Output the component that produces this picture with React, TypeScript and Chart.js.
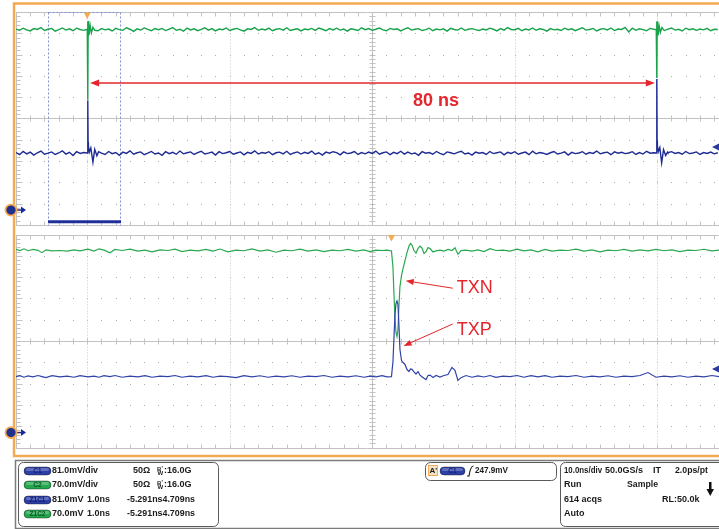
import { useEffect, useRef } from "react";
import { Chart, registerables } from "chart.js";

Chart.register(...registerables);

// ---------------- data ----------------
// main window (10 ns/div), values in screen divisions, sampled every TOP_SAMPLE_NS
const TOP_SAMPLE_NS = 0.5;
const TOP_C2 = [
  4.20, 4.14, 4.24, 4.16, 4.11, 4.22, 4.18, 4.27, 4.13, 4.19,
  4.23, 4.10, 4.17, 4.25, 4.15, 4.21, 4.12, 4.24, 4.18, 4.14,
  4.30, 4.02, 4.28, 4.12, 4.22, 4.16, 4.20, 4.11, 4.23, 4.17,
  4.14, 4.26, 4.19, 4.09, 4.21, 4.15, 4.25, 4.18, 4.12, 4.22,
  4.17, 4.23, 4.13, 4.20, 4.27, 4.14, 4.19, 4.10, 4.24, 4.16,
  4.21, 4.12, 4.18, 4.26, 4.15, 4.22, 4.11, 4.20, 4.17, 4.25,
  4.13, 4.19, 4.23, 4.16, 4.10, 4.21, 4.18, 4.27, 4.14, 4.20,
  4.16, 4.24, 4.12, 4.19, 4.22, 4.15, 4.26, 4.13, 4.18, 4.21,
  4.11, 4.20, 4.17, 4.23, 4.14, 4.25, 4.19, 4.12, 4.22, 4.16,
  4.24, 4.15, 4.20, 4.10, 4.21, 4.18, 4.13, 4.26, 4.17, 4.22,
  4.14, 4.19, 4.25, 4.16, 4.12, 4.23, 4.18, 4.21, 4.11, 4.20,
  4.26, 4.15, 4.19, 4.22, 4.13, 4.17, 4.24, 4.12, 4.20, 4.16,
  4.21, 4.10, 4.23, 4.18, 4.15, 4.25, 4.14, 4.19, 4.22, 4.17,
  4.13, 4.20, 4.16, 4.24, 4.19, 4.11, 4.22, 4.15, 4.27, 4.18,
  4.17, 4.23, 4.12, 4.20, 4.16, 4.25, 4.14, 4.21, 4.18, 4.10,
  4.22, 4.16, 4.19, 4.13, 4.24, 4.17, 4.21, 4.12, 4.20, 4.26,
  4.15, 4.18, 4.23, 4.11, 4.19, 4.22, 4.16, 4.25, 4.13, 4.20,
  4.18, 4.28, 4.06, 4.24, 4.14, 4.21, 4.17, 4.12, 4.23, 4.19,
  4.16, 4.22, 4.13, 4.20, 4.25, 4.15, 4.19, 4.11, 4.24, 4.17,
  4.21, 4.14, 4.20, 4.16, 4.23, 4.12, 4.19, 4.18,
];
const TOP_C1 = [
  -1.60, -1.70, -1.55, -1.66, -1.58, -1.72, -1.61, -1.53, -1.68, -1.63,
  -1.57, -1.69, -1.62, -1.52, -1.67, -1.59, -1.74, -1.56, -1.64, -1.60,
  -1.66, -1.54, -1.71, -1.58, -1.63, -1.69, -1.55, -1.65, -1.60, -1.73,
  -1.58, -1.64, -1.52, -1.68, -1.61, -1.57, -1.70, -1.63, -1.55, -1.67,
  -1.62, -1.73, -1.56, -1.65, -1.59, -1.68, -1.53, -1.66, -1.61, -1.57,
  -1.69, -1.60, -1.54, -1.67, -1.63, -1.58, -1.72, -1.56, -1.65, -1.61,
  -1.55, -1.68, -1.62, -1.57, -1.71, -1.59, -1.64, -1.52, -1.67, -1.60,
  -1.63, -1.56, -1.70, -1.61, -1.58, -1.66, -1.54, -1.69, -1.62, -1.57,
  -1.67, -1.59, -1.64, -1.53, -1.68, -1.61, -1.72, -1.58, -1.63, -1.56,
  -1.60, -1.71, -1.57, -1.65, -1.62, -1.55, -1.69, -1.60, -1.66, -1.58,
  -1.64, -1.53, -1.68, -1.61, -1.57, -1.70, -1.59, -1.65, -1.54, -1.67,
  -1.58, -1.66, -1.62, -1.73, -1.56, -1.63, -1.60, -1.68, -1.55, -1.64,
  -1.70, -1.57, -1.61, -1.66, -1.59, -1.54, -1.67, -1.62, -1.72, -1.58,
  -1.63, -1.60, -1.69, -1.55, -1.65, -1.61, -1.57, -1.71, -1.59, -1.64,
  -1.56, -1.68, -1.62, -1.58, -1.70, -1.54, -1.66, -1.60, -1.63, -1.69,
  -1.61, -1.55, -1.67, -1.63, -1.57, -1.72, -1.59, -1.65, -1.62, -1.56,
  -1.68, -1.60, -1.64, -1.53, -1.66, -1.61, -1.58, -1.70, -1.57, -1.63,
  -1.59, -1.65, -1.62, -1.56, -1.69, -1.60, -1.67, -1.54, -1.63, -1.61,
  -1.66, -1.58, -1.72, -1.61, -1.56, -1.64, -1.60, -1.68, -1.55, -1.65,
  -1.62, -1.57, -1.69, -1.60, -1.64, -1.58, -1.66, -1.61,
];
// the two edges (80 ns apart) in the main window
const C2_EDGE_A_T = [10.0, 10.05, 10.08, 10.1, 10.12, 10.16, 10.26, 10.4, 10.58, 10.8, 11.05];
const C2_EDGE_A_V = [4.19, 4.3, 4.55, 0.88, 3.9, 4.58, 3.92, 4.38, 4.02, 4.28, 4.14];
const C2_EDGE_B_T = [89.86, 89.91, 89.94, 89.96, 89.98, 90.02, 90.12, 90.26, 90.44, 90.66, 90.91];
const C2_EDGE_B_V = [4.18, 4.3, 4.55, 1.9, 3.95, 4.56, 3.9, 4.36, 4.04, 4.27, 4.15];
const C1_EDGE_A_T = [10.0, 10.05, 10.08, 10.1, 10.12, 10.16, 10.3, 10.5, 10.8, 11.05, 11.35, 11.6];
const C1_EDGE_A_V = [-1.62, -1.5, -1.2, 0.85, -1.1, -1.3, -1.58, -1.38, -2.05, -1.45, -1.75, -1.56];
const C1_EDGE_B_T = [89.86, 89.91, 89.94, 89.96, 89.98, 90.02, 90.16, 90.36, 90.62, 90.88, 91.18, 91.44];
const C1_EDGE_B_V = [-1.62, -1.48, -1.2, 1.85, -1.05, -1.3, -1.55, -1.36, -2.08, -1.46, -1.74, -1.58];

// zoom window (1 ns/div), time in ns
const ZOOM_T = [
  4.7, 4.756, 4.812, 4.868, 4.939, 5.009, 5.065, 5.121, 5.205, 5.318,
  5.416, 5.514, 5.598, 5.711, 5.795, 5.865, 5.935, 6.019, 6.089, 6.188,
  6.3, 6.412, 6.511, 6.609, 6.721, 6.833, 6.932, 7.03, 7.142, 7.254,
  7.367, 7.465, 7.563, 7.675, 7.788, 7.9, 8.012, 8.125, 8.237, 8.349,
  8.461, 8.574, 8.686, 8.798, 8.911, 9.023, 9.135, 9.247, 9.36, 9.472,
  9.584, 9.668, 9.753, 9.837, 9.907,
  9.97, 9.991, 10.005, 10.019, 10.033, 10.047, 10.061, 10.075, 10.089, 10.111,
  10.132, 10.16, 10.188, 10.216, 10.237, 10.258, 10.286, 10.314, 10.342, 10.37,
  10.398, 10.427, 10.455, 10.483, 10.511, 10.553, 10.595, 10.651, 10.707, 10.763,
  10.819, 10.861, 10.903, 10.946, 11.016, 11.1, 11.184, 11.268, 11.353, 11.437,
  11.535, 11.633, 11.732, 11.83, 11.928, 12.026, 12.125, 12.223, 12.335, 12.447,
  12.56, 12.672, 12.784, 12.896, 13.009, 13.121, 13.233, 13.346, 13.458, 13.57,
  13.682, 13.795, 13.907, 14.019, 14.131, 14.244, 14.356, 14.468, 14.567,
];
const ZOOM_C2 = [
  4.3, 4.25, 4.33, 4.24, 4.3, 4.26, 4.15, 4.28, 4.23, 4.25,
  4.22, 4.28, 4.23, 4.31, 4.22, 4.33, 4.27, 4.14, 4.3, 4.25,
  4.31, 4.22, 4.27, 4.19, 4.28, 4.25, 4.31, 4.2, 4.27, 4.23,
  4.3, 4.22, 4.32, 4.19, 4.27, 4.24, 4.33, 4.22, 4.28, 4.17,
  4.27, 4.24, 4.31, 4.22, 4.28, 4.2, 4.27, 4.24, 4.3, 4.22,
  4.28, 4.2, 4.27, 4.25, 4.27,
  4.23, 3.45, 2.18, 1.1, 0.4, 0.21, 0.54, 1.71, 2.56, 3.08,
  3.4, 3.78, 4.15, 4.46, 4.58, 4.51, 4.25, 4.13, 4.34, 4.46,
  4.37, 4.11, 4.2, 4.39, 4.34, 4.18, 4.23, 4.27, 4.22, 4.3,
  4.25, 4.38, 4.08, 4.25, 4.27, 4.22, 4.28, 4.2, 4.34, 4.25,
  4.27, 4.22, 4.31, 4.23, 4.28, 4.19, 4.3, 4.22, 4.27, 4.25,
  4.31, 4.22, 4.28, 4.19, 4.27, 4.24, 4.3, 4.22, 4.28, 4.23,
  4.3, 4.24, 4.28, 4.2, 4.27, 4.25, 4.31, 4.23, 4.27,
];
const ZOOM_C1 = [
  -1.67, -1.63, -1.70, -1.64, -1.68, -1.62, -1.67, -1.72, -1.63, -1.68,
  -1.65, -1.70, -1.63, -1.68, -1.65, -1.70, -1.63, -1.67, -1.62, -1.70,
  -1.65, -1.68, -1.63, -1.70, -1.65, -1.67, -1.62, -1.70, -1.65, -1.68,
  -1.63, -1.70, -1.65, -1.67, -1.72, -1.63, -1.68, -1.63, -1.70, -1.65,
  -1.68, -1.63, -1.70, -1.65, -1.67, -1.62, -1.70, -1.65, -1.68, -1.63,
  -1.70, -1.65, -1.68, -1.63, -1.68,
  -1.67, -0.96, 0.16, 1.24, 1.76, 1.88, 1.71, 0.73, -0.4, -0.92,
  -1.01, -1.1, -1.34, -1.43, -1.31, -1.33, -1.45, -1.55, -1.43, -1.6,
  -1.68, -1.75, -1.81, -1.62, -1.6, -1.71, -1.62, -1.69, -1.62, -1.57,
  -1.24, -1.38, -1.85, -1.72, -1.62, -1.7, -1.64, -1.69, -1.62, -1.71,
  -1.65, -1.67, -1.62, -1.70, -1.63, -1.68, -1.63, -1.70, -1.65, -1.67,
  -1.62, -1.70, -1.65, -1.68, -1.63, -1.70, -1.65, -1.67, -1.62, -1.48,
  -1.70, -1.65, -1.68, -1.63, -1.70, -1.65, -1.68, -1.62, -1.67,
];

// readout texts
const CH_PILLS = ["C1", "C2", "Z1C1", "Z1C2"];
const CH_SCALE = ["81.0mV/div", "70.0mV/div", "81.0mV", "70.0mV"];
const CH_ZOOM_SCALE = ["", "", "1.0ns", "1.0ns"];
const CH_IMPEDANCE = ["50Ω", "50Ω", "", ""];
const CH_BW = [":16.0G", ":16.0G", "", ""];
const CH_POSITION = ["", "", "-5.291ns4.709ns", "-5.291ns4.709ns"];
const TRIGGER_LEVEL = "247.9mV";
const TB_ROWS = [
  ["10.0ns/div", "50.0GS/s", "IT", "2.0ps/pt"],
  ["Run", "Sample", "", ""],
  ["614 acqs", "", "RL:50.0k", ""],
  ["Auto", "", "", ""],
];
const LABEL_PERIOD = "80 ns";
const LABEL_N = "TXN";
const LABEL_P = "TXP";

// ---------------- styles ----------------
const GREEN = "#18a24a";
const GREEN_Z = "#2aa850";
const NAVY = "#1d2b92";
const BLUE_Z = "#3142a8";
const RED = "#e5262c";
const ORANGE = "#f4aa52";
const GRID = "#c2c2c2";
const FONT = "'Liberation Sans', Arial, sans-serif";

function buildTop(base: number[], edges: [number[], number[]][]) {
  const pts: { x: number; y: number }[] = [];
  base.forEach((v, i) => {
    const t = i * TOP_SAMPLE_NS;
    if (edges.some(([ts]) => t >= ts[0] && t <= ts[ts.length - 1])) return;
    pts.push({ x: t, y: v });
  });
  edges.forEach(([ts, vs]) => ts.forEach((t, i) => pts.push({ x: t, y: vs[i] })));
  pts.sort((a, b) => a.x - b.x);
  return pts;
}

function arrowHead(ctx: CanvasRenderingContext2D, x0: number, y0: number, x1: number, y1: number, len: number, half: number) {
  const a = Math.atan2(y1 - y0, x1 - x0);
  const c = Math.cos(a), s = Math.sin(a);
  ctx.beginPath();
  ctx.moveTo(x1, y1);
  ctx.lineTo(x1 - len * c + half * s, y1 - len * s - half * c);
  ctx.lineTo(x1 - len * c - half * s, y1 - len * s + half * c);
  ctx.closePath();
  ctx.fill();
}

function pill(ctx: CanvasRenderingContext2D, x: number, y: number, w: number, h: number, fill: string, label: string, tc: string) {
  ctx.save();
  ctx.beginPath();
  ctx.roundRect(x, y - h / 2, w, h, h / 2);
  ctx.fillStyle = fill;
  ctx.fill();
  ctx.strokeStyle = "rgba(0,0,0,0.45)";
  ctx.lineWidth = 0.8;
  ctx.stroke();
  ctx.fillStyle = "rgba(255,255,255,0.25)";
  ctx.beginPath();
  ctx.roundRect(x + 2, y - h / 2 + 1, w - 4, h / 2 - 1, h / 4);
  ctx.fill();
  ctx.font = `bold 6.5px ${FONT}`;
  ctx.fillStyle = tc;
  ctx.textAlign = "center";
  ctx.textBaseline = "middle";
  ctx.fillText(label, x + w / 2, y + 0.5);
  ctx.restore();
}

const scopePlugin = {
  id: "scope",
  beforeDraw(chart: any) {
    const { ctx } = chart;
    ctx.save();
    ctx.fillStyle = "#ffffff";
    ctx.fillRect(0, 0, chart.width, chart.height);
    ctx.restore();
  },
  beforeDatasetsDraw(chart: any) {
    const { ctx, chartArea, scales } = chart;
    const xs = scales.xTop;
    const left = chartArea.left, right = chartArea.right;
    const p = (v: number) => Math.round(v) + 0.5;
    ctx.save();
    [scales.yTop, scales.yBot].forEach((ys: any) => {
      const yT = p(ys.getPixelForValue(5));
      const yB = p(ys.getPixelForValue(-5));
      const yC = p(ys.getPixelForValue(0));
      const xC = p(xs.getPixelForValue(50));
      const xL = p(left);
      ctx.strokeStyle = GRID;
      ctx.lineWidth = 1;
      ctx.setLineDash([]);
      ctx.beginPath();
      for (const y of [yT, yB, yC]) { ctx.moveTo(left, y); ctx.lineTo(right, y); }
      ctx.moveTo(xL, yT); ctx.lineTo(xL, yB);
      ctx.moveTo(xC, yT); ctx.lineTo(xC, yB);
      for (let i = 0; i <= 50; i++) {
        const x = p(xs.getPixelForValue(i * 2));
        if (x > right) break;
        ctx.moveTo(x, yT); ctx.lineTo(x, yT + 4);
        ctx.moveTo(x, yB); ctx.lineTo(x, yB - 4);
        ctx.moveTo(x, yC - 3); ctx.lineTo(x, yC + 3);
      }
      for (let i = -25; i <= 25; i++) {
        const y = p(ys.getPixelForValue(i / 5));
        const len = i % 5 === 0 ? 6 : 4;
        ctx.moveTo(xL, y); ctx.lineTo(xL + len, y);
        ctx.moveTo(xC - 3, y); ctx.lineTo(xC + 3, y);
      }
      ctx.stroke();
      // dotted rows
      ctx.fillStyle = "#a9a9a9";
      for (let j = -4; j <= 4; j++) {
        if (j === 0) continue;
        const y = Math.round(ys.getPixelForValue(j));
        for (let i = 1; i <= 50; i++) {
          const x = Math.round(xs.getPixelForValue(i * 2));
          if (x >= right) break;
          ctx.fillRect(x, y, 1, 1);
        }
      }
      // dotted columns
      ctx.strokeStyle = "#c6c6c6";
      ctx.setLineDash([1, 2]);
      ctx.beginPath();
      for (const k of [1, 3, 7, 9]) {
        const x = p(xs.getPixelForValue(k * 10));
        ctx.moveTo(x, yT); ctx.lineTo(x, yB);
      }
      ctx.stroke();
      ctx.setLineDash([]);
    });
    // zoom window box in the main window
    const yTop = scales.yTop;
    const zx0 = p(xs.getPixelForValue(4.53));
    const zx1 = p(xs.getPixelForValue(14.63));
    const zy0 = p(yTop.getPixelForValue(5));
    const zy1 = p(yTop.getPixelForValue(-5));
    ctx.strokeStyle = "#7d8ed6";
    ctx.setLineDash([2, 2]);
    ctx.beginPath();
    ctx.moveTo(zx0, zy0); ctx.lineTo(zx0, zy1);
    ctx.moveTo(zx1, zy0); ctx.lineTo(zx1, zy1);
    ctx.moveTo(zx0, zy0); ctx.lineTo(zx1, zy0);
    ctx.stroke();
    ctx.setLineDash([]);
    ctx.fillStyle = "#1f2f9a";
    ctx.fillRect(zx0 - 0.5, yTop.getPixelForValue(-4.85) - 1.5, zx1 - zx0 + 1, 3);
    ctx.restore();
  },
  afterDraw(chart: any) {
    const { ctx, scales, chartArea } = chart;
    const xT = scales.xTop, yT = scales.yTop, xB = scales.xBot, yB = scales.yBot;
    ctx.save();
    // ---- annotations ----
    ctx.strokeStyle = RED;
    ctx.fillStyle = RED;
    ctx.lineWidth = 1.5;
    const ax0 = xT.getPixelForValue(10.4), ax1 = xT.getPixelForValue(89.66), ay = yT.getPixelForValue(1.67);
    ctx.beginPath();
    ctx.moveTo(ax0 + 6, ay); ctx.lineTo(ax1 - 6, ay);
    ctx.stroke();
    arrowHead(ctx, ax1, ay, ax0, ay, 9, 3.5);
    arrowHead(ctx, ax0, ay, ax1, ay, 9, 3.5);
    ctx.font = `bold 18px ${FONT}`;
    ctx.textAlign = "center";
    ctx.textBaseline = "middle";
    ctx.fillText(LABEL_PERIOD, xT.getPixelForValue(58.95), yT.getPixelForValue(0.82));

    ctx.lineWidth = 1;
    const arrows = [
      [10.83, 2.48, 10.17, 2.83],
      [10.83, 0.8, 10.14, -0.23],
    ];
    arrows.forEach(([t0, v0, t1, v1]) => {
      const x0 = xB.getPixelForValue(t0), y0 = yB.getPixelForValue(v0);
      const x1 = xB.getPixelForValue(t1), y1 = yB.getPixelForValue(v1);
      const a = Math.atan2(y1 - y0, x1 - x0);
      ctx.beginPath();
      ctx.moveTo(x0, y0);
      ctx.lineTo(x1 - 6 * Math.cos(a), y1 - 6 * Math.sin(a));
      ctx.stroke();
      arrowHead(ctx, x0, y0, x1, y1, 8, 3);
    });
    ctx.font = `18px ${FONT}`;
    ctx.textAlign = "left";
    ctx.fillText(LABEL_N, xB.getPixelForValue(10.885), yB.getPixelForValue(2.47));
    ctx.fillText(LABEL_P, xB.getPixelForValue(10.885), yB.getPixelForValue(0.52));

    // ---- trigger markers ----
    ctx.fillStyle = ORANGE;
    const tri = (x: number, y: number) => {
      ctx.beginPath();
      ctx.moveTo(x - 3.5, y); ctx.lineTo(x + 3.5, y); ctx.lineTo(x, y + 6.5); ctx.closePath(); ctx.fill();
    };
    tri(xT.getPixelForValue(10.0), yT.getPixelForValue(5) + 0.5);
    tri(xB.getPixelForValue(9.97), yB.getPixelForValue(5) + 0.5);

    // ---- frame ----
    ctx.strokeStyle = ORANGE;
    ctx.lineWidth = 2.5;
    ctx.beginPath();
    ctx.moveTo(14, 456); ctx.lineTo(14, 3.5); ctx.lineTo(730, 3.5);
    ctx.moveTo(12.75, 456); ctx.lineTo(730, 456);
    ctx.stroke();

    // ---- ground markers (left) and level markers (right) ----
    const gnd = (y: number) => {
      ctx.fillStyle = NAVY;
      ctx.strokeStyle = NAVY;
      ctx.lineWidth = 1.5;
      ctx.beginPath(); ctx.moveTo(16, y); ctx.lineTo(22, y); ctx.stroke();
      ctx.beginPath(); ctx.moveTo(21, y - 3.5); ctx.lineTo(26, y); ctx.lineTo(21, y + 3.5); ctx.closePath(); ctx.fill();
      ctx.beginPath(); ctx.arc(11, y, 5.5, 0, Math.PI * 2);
      ctx.fillStyle = "#20308e"; ctx.fill();
      ctx.strokeStyle = ORANGE; ctx.lineWidth = 1.8; ctx.stroke();
    };
    gnd(yT.getPixelForValue(-4.3));
    gnd(yB.getPixelForValue(-4.3));
    const lvl = (y: number) => {
      ctx.fillStyle = "#2a3aa0";
      ctx.beginPath(); ctx.moveTo(chartArea.right - 7, y); ctx.lineTo(chartArea.right, y - 3.5); ctx.lineTo(chartArea.right, y + 3.5); ctx.closePath(); ctx.fill();
    };
    lvl(yT.getPixelForValue(-1.34));
    lvl(yB.getPixelForValue(-1.31));

    // ---- readout panel ----
    ctx.strokeStyle = "#7b7b7b";
    ctx.lineWidth = 1.5;
    ctx.beginPath();
    ctx.moveTo(15, 460.5); ctx.lineTo(719, 460.5);
    ctx.moveTo(15.5, 460); ctx.lineTo(15.5, 529);
    ctx.moveTo(15, 528.5); ctx.lineTo(719, 528.5);
    ctx.stroke();
    ctx.strokeStyle = "#5a5a5a";
    ctx.lineWidth = 1;
    ctx.beginPath(); ctx.roundRect(18.5, 462.5, 200, 64, 5); ctx.stroke();
    ctx.beginPath(); ctx.roundRect(425.5, 462.5, 131, 18, 5); ctx.stroke();
    ctx.beginPath(); ctx.roundRect(560.5, 462.5, 170, 64, 5); ctx.stroke();

    ctx.textAlign = "left";
    ctx.textBaseline = "middle";
    const rows = [471, 485, 500, 514];
    const pillColors = [["#2d3fa6", "#10207a"], ["#23a84e", "#0d5a25"], ["#2d3fa6", "#10207a"], ["#23a84e", "#0d5a25"]];
    CH_PILLS.forEach((lab, i) => {
      const y = rows[i];
      pill(ctx, 24, y, 27, 8, pillColors[i][0], lab, pillColors[i][1]);
      ctx.fillStyle = "#1a1a1a";
      ctx.font = `bold 9px ${FONT}`;
      ctx.fillText(CH_SCALE[i], 52, y, 46);
      if (CH_ZOOM_SCALE[i]) ctx.fillText(CH_ZOOM_SCALE[i], 87, y, 23);
      if (CH_IMPEDANCE[i]) ctx.fillText(CH_IMPEDANCE[i], 133, y);
      if (CH_POSITION[i]) ctx.fillText(CH_POSITION[i], 127, y, 68);
      if (CH_BW[i]) {
        ctx.font = `bold 6px ${FONT}`;
        ctx.fillText("B", 157, y - 2);
        ctx.fillText("'", 161.5, y - 2.5);
        ctx.fillText("W", 157.5, y + 2.5);
        ctx.font = `bold 9px ${FONT}`;
        ctx.fillText(CH_BW[i], 164, y);
      }
    });
    // trigger readout
    ctx.fillStyle = "#f6e3c6";
    ctx.fillRect(428, 465, 9.5, 11);
    ctx.strokeStyle = ORANGE;
    ctx.lineWidth = 1;
    ctx.strokeRect(428.5, 465.5, 9, 10);
    ctx.fillStyle = "#1a1a1a";
    ctx.font = `bold 8px ${FONT}`;
    ctx.fillText("A'", 429.5, 471);
    pill(ctx, 440, 471, 25, 8, "#2d3fa6", "C1", "#10207a");
    ctx.strokeStyle = "#1a1a1a";
    ctx.lineWidth = 1.2;
    ctx.beginPath();
    ctx.moveTo(467, 476); ctx.lineTo(469, 476);
    ctx.quadraticCurveTo(470.5, 466, 473.5, 466);
    ctx.stroke();
    ctx.fillStyle = "#1a1a1a";
    ctx.font = `bold 9px ${FONT}`;
    ctx.fillText(TRIGGER_LEVEL, 475, 471, 33);
    // timebase readout
    const tbCols = [564, 605, 653, 675];
    const tbCols2 = [564, 627, 662, 675];
    const tbRows = [471, 485, 499.5, 514];
    const tbMax = [[38, 41, 10, 33], [30, 31, 40, 33], [38, 31, 40, 33], [30, 31, 40, 33]];
    TB_ROWS.forEach((r, i) => {
      r.forEach((s, j) => {
        if (!s) return;
        const x = i === 0 ? tbCols[j] : tbCols2[j];
        ctx.fillText(s, x, tbRows[i], tbMax[i][j]);
      });
    });
    ctx.fillStyle = "#111";
    ctx.fillRect(709, 482, 2.5, 9);
    ctx.beginPath(); ctx.moveTo(706.5, 489); ctx.lineTo(714, 489); ctx.lineTo(710.25, 496); ctx.closePath(); ctx.fill();
    ctx.restore();
  },
};

export default function App() {
  const ref = useRef<HTMLCanvasElement>(null);
  useEffect(() => {
    document.body.style.margin = "0";
    document.body.style.overflow = "hidden";
    const topC2 = buildTop(TOP_C2, [[C2_EDGE_A_T, C2_EDGE_A_V], [C2_EDGE_B_T, C2_EDGE_B_V]]);
    const topC1 = buildTop(TOP_C1, [[C1_EDGE_A_T, C1_EDGE_A_V], [C1_EDGE_B_T, C1_EDGE_B_V]]);
    const zoomC2 = ZOOM_T.map((t, i) => ({ x: t, y: ZOOM_C2[i] }));
    const zoomC1 = ZOOM_T.map((t, i) => ({ x: t, y: ZOOM_C1[i] }));
    const chart = new Chart(ref.current as HTMLCanvasElement, {
      type: "line",
      data: {
        datasets: [
          { label: "Z1C1", data: zoomC1, xAxisID: "xBot", yAxisID: "yBot", borderColor: BLUE_Z, borderWidth: 1.2, order: 0 },
          { label: "Z1C2", data: zoomC2, xAxisID: "xBot", yAxisID: "yBot", borderColor: GREEN_Z, borderWidth: 1.2, order: 1 },
          { label: "C1", data: topC1, xAxisID: "xTop", yAxisID: "yTop", borderColor: NAVY, borderWidth: 1.4, order: 0 },
          { label: "C2", data: topC2, xAxisID: "xTop", yAxisID: "yTop", borderColor: GREEN, borderWidth: 1.4, order: 1 },
        ],
      },
      options: {
        responsive: false,
        animation: false,
        devicePixelRatio: 1,
        events: [],
        layout: { padding: { left: 16, top: 12, right: 0, bottom: 81.5 } },
        elements: { point: { radius: 0 }, line: { tension: 0 } },
        scales: {
          xTop: { type: "linear", axis: "x", min: 0, max: 98.667, display: false },
          xBot: { type: "linear", axis: "x", min: 4.7, max: 14.567, display: false },
          yTop: { type: "linear", axis: "y", min: -15.45, max: 5, display: false },
          yBot: { type: "linear", axis: "y", min: -5, max: 15.45, display: false },
        },
        plugins: { legend: { display: false }, tooltip: { enabled: false } },
      },
      plugins: [scopePlugin],
    } as any);
    return () => chart.destroy();
  }, []);
  return (
    <div style={{ position: "fixed", left: 0, top: 0, width: 719, height: 529, background: "#fff" }}>
      <canvas ref={ref} width={719} height={529} style={{ display: "block", width: 719, height: 529 }} />
    </div>
  );
}
